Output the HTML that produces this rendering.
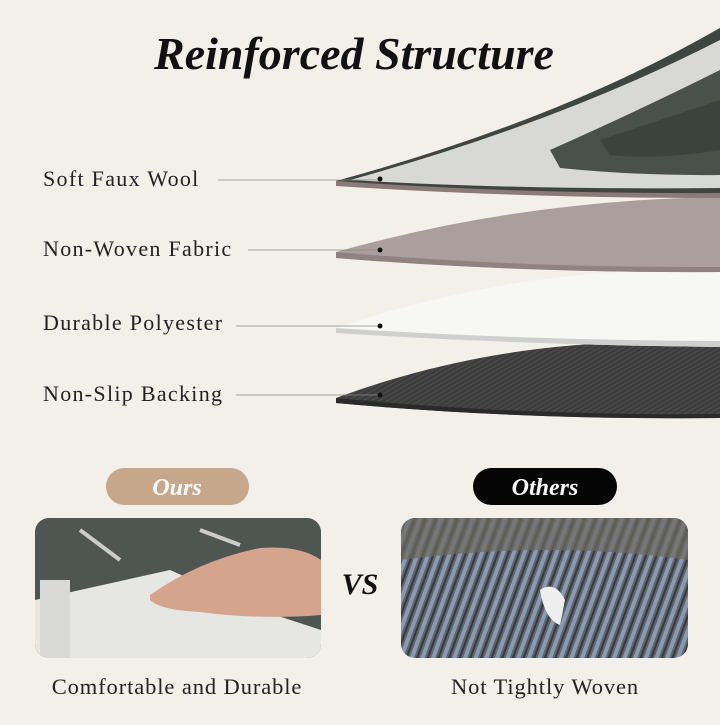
<!DOCTYPE html>
<html><head><style>
body{margin:0;width:720px;height:720px;background:#f3efe9;overflow:hidden;font-family:"Liberation Serif",serif;}
</style></head><body>
<svg width="720" height="720" xmlns="http://www.w3.org/2000/svg">
<defs>
<pattern id="stripe" width="4" height="4" patternUnits="userSpaceOnUse" patternTransform="rotate(60)"><rect width="4" height="4" fill="#3c3c3c"/><rect width="1.5" height="4" fill="#4a4a4a"/></pattern>
<pattern id="knit" width="10" height="8" patternUnits="userSpaceOnUse" patternTransform="rotate(20)"><rect width="10" height="8" fill="#5d6472"/><rect width="4" height="8" fill="#8a9ab0"/><rect x="6" width="2" height="8" fill="#3a3a36"/></pattern>
<clipPath id="c1"><rect x="35" y="518" width="286" height="140" rx="14"/></clipPath>
<clipPath id="c2"><rect x="401" y="518" width="287" height="140" rx="14"/></clipPath>
</defs>
<text x="354" y="69" text-anchor="middle" font-size="46" font-weight="bold" font-style="italic" fill="#111">Reinforced Structure</text>

<path d="M336,398 Q520,330 720,345 L720,418 Q520,420 336,403 Z" fill="url(#stripe)"/>
<path d="M336,398 L336,403 Q520,420 720,418 L720,414 Q520,416 336,398Z" fill="#2a2a2a"/>
<path d="M336,328 Q520,265 720,270 L720,347 Q520,345 336,333 Z" fill="#f7f7f5"/>
<path d="M336,328 L336,333 Q520,345 720,347 L720,341 Q520,340 336,328Z" fill="#cfcfcf"/>
<path d="M336,252 Q520,200 720,197 L720,272 Q520,273 336,258 Z" fill="#ab9f9d"/>
<path d="M336,252 L336,258 Q520,273 720,272 L720,267 Q520,268 336,252Z" fill="#8f8280"/>
<path d="M336,181 Q560,120 720,28 L720,198 Q520,198 336,186 Z" fill="#8c7a76"/>
<path d="M336,181 Q560,120 720,28 L720,193 Q520,194 336,181 Z" fill="#3f4540"/>
<path d="M350,180 Q560,122 720,40 L720,188 Q520,190 350,180 Z" fill="#d8d8d4"/>
<path d="M550,150 Q640,110 720,70 L720,175 Q640,176 560,168 Z" fill="#4a514b"/>
<path d="M600,140 Q660,120 720,100 L720,150 Q660,160 610,155 Z" fill="#3c423d"/>

<g fill="#111"><circle cx="380" cy="179" r="2.5"/><circle cx="380" cy="250" r="2.5"/><circle cx="380" cy="326" r="2.5"/><circle cx="380" cy="395" r="2.5"/></g>
<g stroke="#888" stroke-width="0.8"><line x1="218" y1="180" x2="378" y2="180"/><line x1="248" y1="250" x2="378" y2="250"/><line x1="236" y1="326" x2="378" y2="326"/><line x1="236" y1="395" x2="378" y2="395"/></g>
<g font-size="22" fill="#222" letter-spacing="1.3">
<text x="43" y="186">Soft Faux Wool</text>
<text x="43" y="256">Non-Woven Fabric</text>
<text x="43" y="330">Durable Polyester</text>
<text x="43" y="401">Non-Slip Backing</text>
</g>

<rect x="106" y="468" width="143" height="37" rx="18.5" fill="#c6a78a"/>
<text x="177" y="495" text-anchor="middle" font-size="24" font-weight="bold" font-style="italic" fill="#fff">Ours</text>
<rect x="473" y="468" width="144" height="37" rx="18.5" fill="#050505"/>
<text x="545" y="495" text-anchor="middle" font-size="24" font-weight="bold" font-style="italic" fill="#fff">Others</text>

<g clip-path="url(#c1)">
<rect x="35" y="518" width="286" height="140" fill="#4f5550"/>
<path d="M35,600 L170,570 L260,610 L321,630 L321,658 L35,658Z" fill="#e6e6e2"/>
<rect x="40" y="580" width="30" height="78" fill="#d8d8d4"/>
<path d="M150,595 Q200,560 260,548 Q300,545 321,560 L321,615 Q260,620 200,612 Q160,610 150,600Z" fill="#d4a58c"/>
<path d="M80,530 L120,560 M200,530 L240,545" stroke="#ccc" stroke-width="4"/>
</g>
<g clip-path="url(#c2)">
<rect x="401" y="518" width="287" height="140" fill="url(#knit)"/>
<path d="M401,518 L688,518 L688,560 Q550,540 401,560Z" fill="#6c6a60" opacity="0.7"/>
<path d="M540,590 Q555,580 565,600 L560,625 Q545,620 540,590Z" fill="#eee"/>
</g>
<text x="360" y="594" text-anchor="middle" font-size="30" font-weight="bold" font-style="italic" fill="#111">VS</text>
<text x="177" y="694" text-anchor="middle" font-size="22.5" fill="#222" letter-spacing="0.9">Comfortable and Durable</text>
<text x="545" y="694" text-anchor="middle" font-size="22.5" fill="#222" letter-spacing="0.9">Not Tightly Woven</text>
</svg>
</body></html>
